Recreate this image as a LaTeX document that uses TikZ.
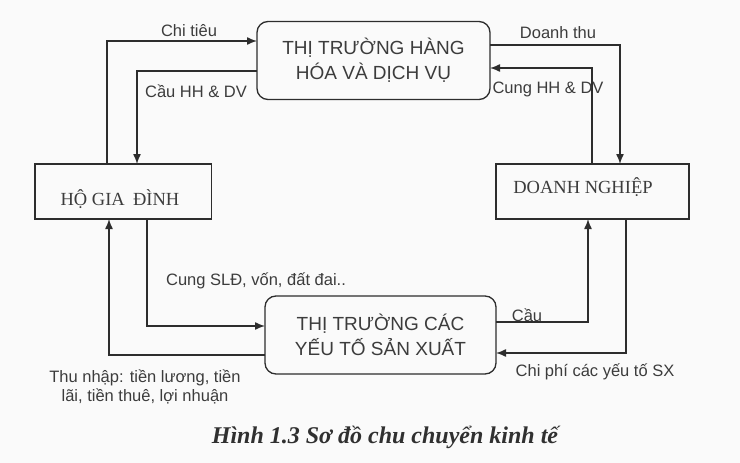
\documentclass[tikz,border=0pt]{standalone}
\usepackage{fontspec}
\setmainfont{Liberation Serif}
\newfontfamily\lsans{Liberation Sans}
\usetikzlibrary{arrows.meta}
\definecolor{ink}{RGB}{45,45,45}
\definecolor{txt}{RGB}{60,60,60}
\definecolor{paper}{RGB}{250,250,250}
\tikzset{
  arr/.style={draw=ink, line width=1.4pt, -{Latex[length=10pt,width=8pt]}},
  market/.style={draw=ink, line width=1.3pt, rounded corners=11pt, outer sep=0pt, inner sep=0pt,
    minimum width=233pt, minimum height=78pt, align=center, text=txt,
    font=\lsans\fontsize{19}{25}\selectfont},
  agent/.style={draw=ink, line width=1.4pt, outer sep=0pt, inner sep=0pt,
    minimum height=55pt},
  agenttext/.style={text=txt, inner sep=0pt, font=\fontsize{18.5}{22}\selectfont},
  lbl/.style={text=txt, inner sep=0pt, align=center, font=\lsans\fontsize{16.5}{19}\selectfont},
  capt/.style={text=txt!80!black, inner sep=0pt, font=\bfseries\itshape\fontsize{24}{28}\selectfont}
}
\begin{document}
\begin{tikzpicture}[x=1pt,y=-1pt]
\fill[paper] (0,0) rectangle (740,463);
\useasboundingbox (0,0) rectangle (740,463);
% boxes
\node[market] (top) at (373.5,60.5) {THỊ TRƯỜNG HÀNG\\HÓA VÀ DỊCH VỤ};
\node[market, minimum width=231pt] (bot) at (380.5,335) {THỊ TRƯỜNG CÁC\\YẾU TỐ SẢN XUẤT};
\node[agent, minimum width=176.5pt] (hgd) at (123.25,191.5) {};
\node[agent, minimum width=193pt] (dn) at (592.5,191.5) {};
\node[agenttext] (hgdt) at (120,199) {HỘ GIA\hspace{0.45em}ĐÌNH};
\node[agenttext] (dnt) at (583,187) {DOANH NGHIỆP};
% corner coordinates
\coordinate (chiT) at (107,41);
\coordinate (cauT) at (137,71);
\coordinate (dtT) at (620,45);
\coordinate (cungT) at (592,68);
\coordinate (slT) at (147,326);
\coordinate (tnT) at (109,355);
\coordinate (cauB) at (588,322);
\coordinate (cpT) at (626,353);
% connectors
\draw[arr] (hgd.north -| chiT) |- (top.west |- chiT);
\draw[arr] (top.west |- cauT) -| (hgd.north -| cauT);
\draw[arr] (top.east |- dtT) -| (dn.north -| dtT);
\draw[arr] (dn.north -| cungT) |- (top.east |- cungT);
\draw[arr] (hgd.south -| slT) |- (bot.west |- slT);
\draw[arr] (bot.west |- tnT) -| (hgd.south -| tnT);
\draw[arr] (bot.east |- cauB) -| (dn.south -| cauB);
\draw[arr] (dn.south -| cpT) |- (bot.east |- cpT);
% labels
\node[lbl] (l1) at (189,31) {Chi tiêu};
\node[lbl] (l2) at (196,91) {Cầu HH \& DV};
\node[lbl] (l3) at (558,33) {Doanh thu};
\node[lbl] (l4) at (548,89) {Cung HH \& DV};
\node[lbl] (l5) at (256,281) {Cung SLĐ, vốn, đất đai..};
\node[lbl] (l6) at (527,315) {Cầu};
\node[lbl] (l7) at (595,372) {Chi phí các yếu tố SX};
\node[lbl] (l8) at (145,387) {Thu nhập: tiền lương, tiền\\lãi, tiền thuê, lợi nhuận};
\node[capt] (cap) at (385,437) {Hình 1.3 Sơ đồ chu chuyển kinh tế};
\end{tikzpicture}
\end{document}
